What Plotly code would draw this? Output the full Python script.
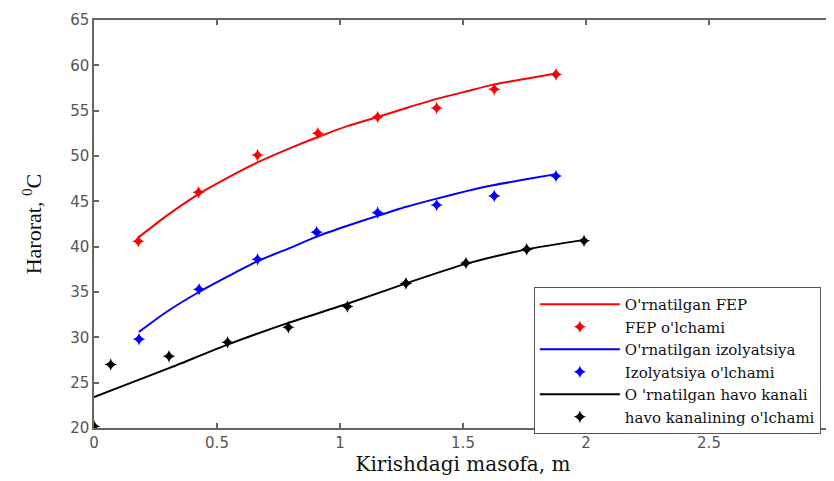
import plotly.graph_objects as go

# measured points
fep_x = [0.18, 0.425, 0.665, 0.91, 1.153, 1.393, 1.627, 1.878]
fep_y = [40.6, 46.0, 50.1, 52.5, 54.3, 55.3, 57.35, 59.0]
izo_x = [0.183, 0.427, 0.665, 0.905, 1.153, 1.393, 1.627, 1.878]
izo_y = [29.8, 35.3, 38.6, 41.6, 43.75, 44.6, 45.6, 47.8]
hav_x = [0.0, 0.068, 0.305, 0.543, 0.79, 1.03, 1.268, 1.512, 1.759, 1.992]
hav_y = [20.2, 27.0, 27.9, 29.45, 31.1, 33.4, 35.95, 38.2, 39.7, 40.65]

# fitted curves
fep_fit_x = [0.18, 0.3, 0.425, 0.55, 0.665, 0.8, 0.91, 1.03, 1.153, 1.27, 1.393, 1.51, 1.627, 1.75, 1.878]
fep_fit_y = [41.0, 43.5, 45.8, 47.7, 49.3, 50.9, 52.1, 53.3, 54.3, 55.3, 56.3, 57.1, 57.9, 58.5, 59.1]
izo_fit_x = [0.183, 0.3, 0.427, 0.55, 0.665, 0.8, 0.905, 1.03, 1.153, 1.27, 1.393, 1.51, 1.627, 1.75, 1.878]
izo_fit_y = [30.6, 32.9, 35.0, 36.8, 38.4, 39.9, 41.1, 42.3, 43.4, 44.4, 45.3, 46.1, 46.8, 47.4, 48.0]
hav_fit_x = [0.0, 0.305, 0.543, 0.79, 1.03, 1.268, 1.512, 1.759, 1.992]
hav_fit_y = [23.4, 26.6, 29.2, 31.6, 33.7, 35.95, 38.1, 39.7, 40.75]

names = ["O'rnatilgan FEP", "FEP o'lchami", "O'rnatilgan izolyatsiya",
         "Izolyatsiya o'lchami", "O 'rnatilgan havo kanali", "havo kanalining o'lchami"]

x_ticks = [0, 0.5, 1, 1.5, 2, 2.5, 3]
y_ticks = [20, 25, 30, 35, 40, 45, 50, 55, 60, 65]

fig = go.Figure()
series = [
    (fep_fit_x, fep_fit_y, fep_x, fep_y, "#ff0000"),
    (izo_fit_x, izo_fit_y, izo_x, izo_y, "#0000ff"),
    (hav_fit_x, hav_fit_y, hav_x, hav_y, "#000000"),
]
for i, (fx, fy, mx, my, c) in enumerate(series):
    fig.add_trace(go.Scatter(x=fx, y=fy, mode="lines", name=names[2 * i],
                             line=dict(color=c, width=2, shape="spline", smoothing=0.6)))
    fig.add_trace(go.Scatter(x=mx, y=my, mode="markers", name=names[2 * i + 1],
                             marker=dict(color=c, symbol="star-diamond", size=9,
                                         line=dict(width=0))))

axis_common = dict(
    showgrid=False, zeroline=False, showline=True, linecolor="#666666", linewidth=1.5,
    mirror="ticks", ticks="inside", ticklen=5, tickcolor="#666666", tickwidth=1.5,
    tickfont=dict(family="DejaVu Sans", size=15, color="#555555"),
    automargin=False, ticklabeloverflow="allow",
)
fig.update_xaxes(range=[0, 3], tickvals=x_ticks, ticktext=[str(v) for v in x_ticks],
                 title=dict(text="Kirishdagi masofa, m",
                            font=dict(family="DejaVu Serif", size=20, color="#111111"),
                            standoff=6),
                 **axis_common)
fig.update_yaxes(range=[20, 65], tickvals=y_ticks, ticktext=[str(v) for v in y_ticks],
                 title=dict(text="Harorat, <sup>0</sup>C",
                            font=dict(family="Liberation Serif", size=22, color="#111111"),
                            standoff=22),
                 **axis_common)

fig.update_layout(
    width=826, height=473,
    margin=dict(l=86, r=2, t=12, b=53),
    plot_bgcolor="white", paper_bgcolor="white",
    legend=dict(x=0.596, y=0.3456, xanchor="left", yanchor="top",
                bgcolor="white", bordercolor="#555555", borderwidth=1,
                font=dict(family="DejaVu Serif", size=15, color="#111111"),
                itemwidth=80, tracegroupgap=0),
    showlegend=True,
)

fig.write_html("out.html")
